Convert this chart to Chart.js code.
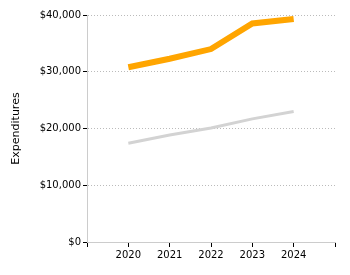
<!DOCTYPE html>
<html>
<head>
<meta charset="utf-8">
<script src="https://cdn.jsdelivr.net/npm/chart.js@4"></script>
<style>
  html, body { margin: 0; padding: 0; background: #fff; }
  #wrap { width: 350px; height: 275px; }
</style>
</head>
<body>
<div id="wrap"><canvas id="expChart" width="350" height="275"></canvas></div>
<script>
const years = [2020, 2021, 2022, 2023, 2024];
const seriesTop = [30800, 32300, 34000, 38500, 39300];
const seriesLow = [17400, 18850, 20100, 21700, 23000];
const yTicks = [0, 10000, 20000, 30000, 40000];

const font = { family: 'DejaVu Sans', size: 10 };

new Chart(document.getElementById('expChart').getContext('2d'), {
    type: 'line',
    data: {
        datasets: [{
            data: years.map((y, i) => ({ x: y, y: seriesTop[i] })),
            borderColor: '#ffa500',
            borderWidth: 6,
            pointRadius: 0,
            tension: 0
        }, {
            data: years.map((y, i) => ({ x: y, y: seriesLow[i] })),
            borderColor: '#d3d3d3',
            borderWidth: 3,
            pointRadius: 0,
            tension: 0
        }]
    },
    options: {
        responsive: false,
        animation: false,
        layout: { padding: { left: 0, right: 15, top: 15, bottom: 0 } },
        plugins: { legend: { display: false }, tooltip: { enabled: false } },
        scales: {
            x: {
                type: 'linear',
                min: 2019,
                max: 2025,
                afterBuildTicks: function (axis) {
                    axis.ticks = [2019, 2020, 2021, 2022, 2023, 2024, 2025].map(v => ({ value: v }));
                },
                afterFit: function (axis) { axis.height = 33; },
                ticks: {
                    font: font,
                    color: '#000',
                    padding: 2,
                    maxRotation: 0,
                    callback: function (v) {
                        return years.includes(v) ? String(v) : '';
                    }
                },
                grid: {
                    drawOnChartArea: false,
                    tickLength: 5,
                    tickColor: '#000'
                },
                border: { color: '#ccc' }
            },
            y: {
                min: 0,
                max: 40000,
                afterBuildTicks: function (axis) {
                    axis.ticks = yTicks.map(v => ({ value: v }));
                },
                afterFit: function (axis) { axis.width = 87; },
                ticks: {
                    font: font,
                    color: '#000',
                    padding: 2,
                    callback: function (v) {
                        return '$' + v.toLocaleString('en-US');
                    }
                },
                grid: {
                    color: '#bbb',
                    tickLength: 4,
                    tickColor: '#000',
                    tickBorderDash: [4, 0]
                },
                border: { color: '#ccc', dash: [1, 2] },
                title: {
                    display: true,
                    text: 'Expenditures',
                    font: { family: 'DejaVu Sans', size: 11 },
                    color: '#000',
                    padding: { top: 10, bottom: 0 }
                }
            }
        }
    }
});
</script>
</body>
</html>
